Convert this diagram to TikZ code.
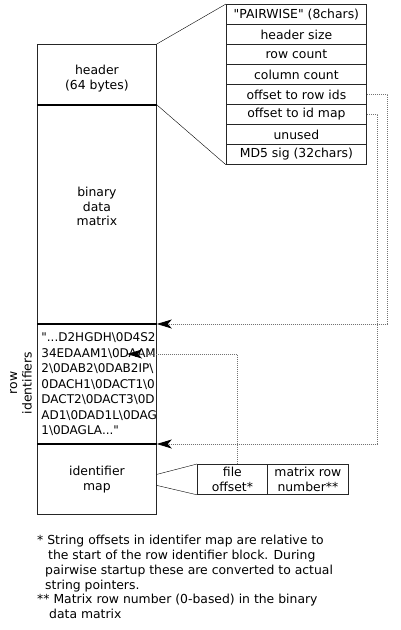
\documentclass[tikz,border=0pt]{standalone}
\usepackage{fontspec}
\newfontfamily\dvsans{DejaVu Sans}
\usetikzlibrary{positioning,arrows.meta}
\begin{document}
\begin{tikzpicture}[
x=1pt,y=-1pt,
font=\dvsans\fontsize{12.4}{14.5}\selectfont
]

  \tikzstyle{blk}=[draw=black!85,line width=0.8pt,minimum width=119pt,inner sep=0pt,anchor=north west]
  \tikzstyle{fld}=[draw=black!85,line width=0.8pt,minimum width=140pt,minimum height=20pt,inner sep=0pt,anchor=north west]
  \tikzstyle{cell}=[draw=black!85,line width=0.8pt,minimum height=30pt,inner sep=0pt,align=center]
  \tikzstyle{divider}=[line width=1.6pt]
  \tikzstyle{ptr}=[draw=black!55,line width=0.8pt,dash pattern=on 1pt off 1pt,-{Stealth[length=15pt,width=9pt,inset=4pt,black]}]

  \useasboundingbox (0,0) rectangle (400,630);

  % file layout
  \node (hd) [blk,minimum height=60pt] at (37,44) {};
  \node (bm) [blk,minimum height=220pt] at (37,104) {};
  \node (ri) [blk,minimum height=120pt,align=left,text width=111pt,inner xsep=4pt,
    font=\dvsans\fontsize{12}{15.5}\selectfont] at (37,324)
    {"...D2HGDH\textbackslash0D4S2\\
     34EDAAM1\textbackslash0DAAM\\
     2\textbackslash0DAB2\textbackslash0DAB2IP\textbackslash\\
     0DACH1\textbackslash0DACT1\textbackslash0\\
     DACT2\textbackslash0DACT3\textbackslash0D\\
     AD1\textbackslash0DAD1L\textbackslash0DAG\\
     1\textbackslash0DAGLA..."};
  \node (im) [blk,minimum height=70pt,align=center] at (37,444) {identifier\\map};

  \node (hdt) [align=center,yshift=-4pt] at (hd.center) {header\\(64 bytes)};
  \node (bmt) [align=center,yshift=8pt] at (bm.center) {binary\\data\\matrix};
  \node (rl) [rotate=90,align=center] at (21,383) {row\\identifiers};

  \draw [divider] (hd.south west) -- (hd.south east);
  \draw [divider] (ri.north west) -- (ri.north east);
  \draw [divider] (im.north west) -- (im.north east);

  % header fields
  \foreach \lbl [count=\i] in {{"PAIRWISE" (8chars)},{header size},{row count},{column count},
      {offset to row ids},{offset to id map},{unused},{MD5 sig (32chars)}}
    \node (f\i) [fld] at (226,{4+20*(\i-1)}) {\lbl};

  \draw (hd.north east) -- (f1.north west);
  \draw (hd.south east) -- (f8.south west);

  \draw [ptr] (f5.east) -- ++(21,0) |- (ri.north east);
  \draw [ptr] (f6.east) -- ++(11,0) |- (im.north east);

  % identifier map entry
  \node (mo) [cell,minimum width=70pt,anchor=north west] at (197,464) {file\\offset*};
  \node (mr) [cell,minimum width=81pt,right=-0.8pt of mo] {matrix row\\number**};

  \draw ([yshift=5pt]im.east) -- (mo.north west);
  \draw ([yshift=-6pt]im.east) -- (mo.south west);

  \coordinate (rs) at (127,354);
  \draw [ptr] ([xshift=5pt]mo.north) |- (rs);

  % notes
  \node (nt) [anchor=north west,align=left,inner sep=0pt,
    font=\dvsans\fontsize{12.4}{14.8}\selectfont] at (37,535)
    {* String offsets in identifer map are relative to\\
     \hspace*{11pt}the start of the row identifier block. During\\
     \hspace*{8pt}pairwise startup these are converted to actual\\
     \hspace*{8pt}string pointers.\\
     ** Matrix row number (0-based) in the binary\\
     \hspace*{12pt}data matrix};

\end{tikzpicture}
\end{document}
